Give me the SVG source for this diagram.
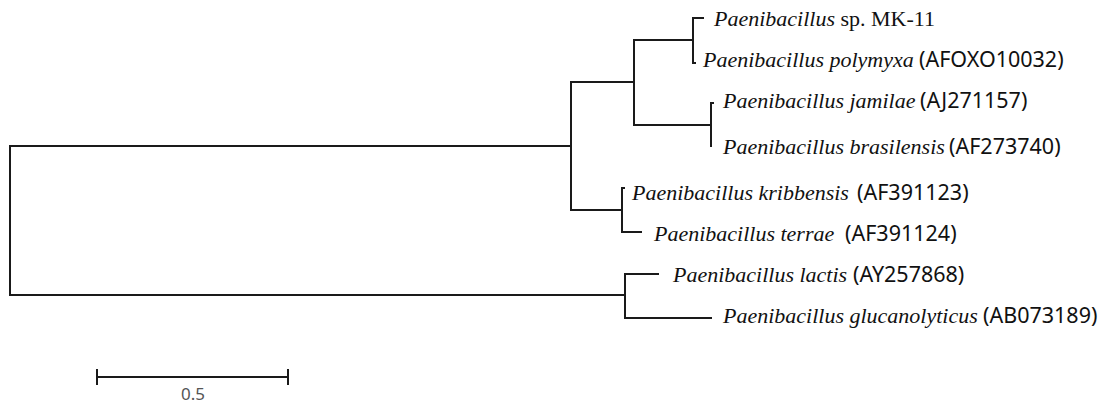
<svg xmlns="http://www.w3.org/2000/svg" width="1101" height="404" viewBox="0 0 1101 404">
<style>
.br{fill:none;stroke:#1a1a1a;stroke-width:2;stroke-linecap:square}
.lbl{font-family:"Liberation Serif","Times New Roman",serif;font-size:22px;fill:#111}
.it{font-style:italic}
.acc{font-family:"Noto Sans","Open Sans",sans-serif;font-size:21.5px;fill:#111}
.sc{font-family:"Noto Sans","Open Sans",sans-serif;font-size:17px;fill:#555}
</style>
<rect width="1101" height="404" fill="#fff"/>
<g id="connectors">
<path class="br" d="M571,146 H10 V295 H625"/>
<path class="br" d="M634,82 H571 V210 H622"/>
<path class="br" d="M693,40 H634 V125 H711"/>
<path class="br" d="M703,18 H693 V63 H695"/>
<path class="br" d="M713,103 H711 V146 H711"/>
<path class="br" d="M624,188 H622 V232 H641"/>
<path class="br" d="M658,274 H625 V318 H711"/>
</g>
<g id="leaf-mk11"><text class="lbl" x="714" y="26"><tspan class="it">Paenibacillus</tspan> sp. MK-11</text></g>
<g id="leaf-polymyxa"><text class="lbl" x="703" y="67"><tspan class="it">Paenibacillus polymyxa</tspan></text><text class="acc" x="919" y="67">(AFOXO10032)</text></g>
<g id="leaf-jamilae"><text class="lbl" x="723" y="108"><tspan class="it">Paenibacillus jamilae</tspan></text><text class="acc" x="920" y="108">(AJ271157)</text></g>
<g id="leaf-brasilensis"><text class="lbl" x="723" y="154"><tspan class="it">Paenibacillus brasilensis</tspan></text><text class="acc" x="949" y="154">(AF273740)</text></g>
<g id="leaf-kribbensis"><text class="lbl" x="632" y="200"><tspan class="it">Paenibacillus kribbensis</tspan></text><text class="acc" x="857" y="200">(AF391123)</text></g>
<g id="leaf-terrae"><text class="lbl" x="654" y="241"><tspan class="it">Paenibacillus terrae</tspan></text><text class="acc" x="845" y="241">(AF391124)</text></g>
<g id="leaf-lactis"><text class="lbl" x="673" y="282"><tspan class="it">Paenibacillus lactis</tspan></text><text class="acc" x="853" y="282">(AY257868)</text></g>
<g id="leaf-glucanolyticus"><text class="lbl" x="723" y="323"><tspan class="it">Paenibacillus glucanolyticus</tspan></text><text class="acc" x="983" y="323">(AB073189)</text></g>
<g id="scale-bar">
<path class="br" d="M97,377 H288 M97,370 V384 M288,370 V384"/>
<text class="sc" x="193" y="400" text-anchor="middle">0.5</text>
</g>
</svg>
